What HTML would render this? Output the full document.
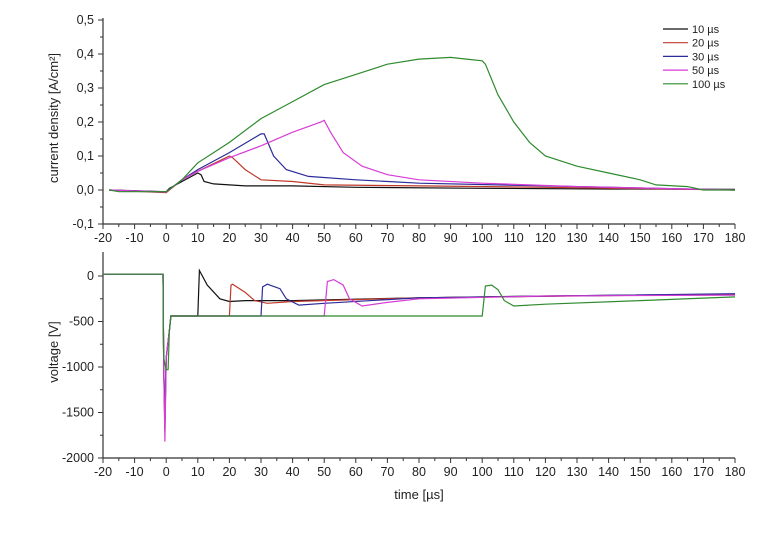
<!DOCTYPE html>
<html><head><meta charset="utf-8"><style>
body{margin:0;background:#fff;width:759px;height:533px;overflow:hidden}
svg{font-family:"Liberation Sans",sans-serif;font-size:12.5px;fill:#222}
</style></head><body>
<svg id="c" width="759" height="533"></svg>
<script>
const labels=["10 µs","20 µs","30 µs","50 µs","100 µs"];
const colors=["#111","#c0392b","#2b2b9a","#d63cd6","#2e8b2e"];
const xTicks=[-20,-10,0,10,20,30,40,50,60,70,80,90,100,110,120,130,140,150,160,170,180];
const jTicks=[-0.1,0,0.1,0.2,0.3,0.4,0.5];
const vTicks=[-2000,-1500,-1000,-500,0];
const j10=[[-18,0],[0,-0.005],[1,0.005],[5,0.025],[10,0.05],[11,0.045],[12,0.025],[15,0.018],[25,0.012],[40,0.012],[60,0.008],[100,0.005],[140,0.003],[180,0.002]];
const j20=[[-18,0],[0,-0.008],[5,0.03],[10,0.055],[20,0.1],[21,0.095],[25,0.06],[30,0.03],[40,0.025],[50,0.015],[80,0.012],[120,0.008],[180,0]];
const j30=[[-18,0],[0,-0.006],[5,0.03],[10,0.06],[20,0.11],[30,0.165],[31,0.165],[34,0.1],[38,0.06],[45,0.04],[60,0.03],[80,0.02],[120,0.012],[180,0]];
const j50=[[-18,0],[0,-0.006],[5,0.03],[10,0.055],[20,0.095],[30,0.13],[40,0.17],[49,0.2],[50,0.205],[52,0.17],[56,0.11],[62,0.07],[70,0.045],[80,0.03],[100,0.02],[130,0.01],[180,0]];
const j100=[[-18,0],[-15,-0.005],[0,-0.005],[5,0.03],[10,0.08],[15,0.11],[20,0.14],[30,0.21],[40,0.26],[50,0.31],[60,0.34],[70,0.37],[80,0.385],[90,0.39],[95,0.385],[100,0.38],[101,0.37],[105,0.28],[110,0.2],[115,0.14],[120,0.1],[130,0.07],[140,0.05],[150,0.03],[155,0.015],[165,0.01],[170,0],[180,0]];
const v10=[[-20,20],[-1,20],[-0.8,-1000],[-0.4,-1700],[0,-900],[1,-600],[1.5,-440],[10,-440],[10.5,60],[13,-100],[17,-250],[20,-280],[25,-270],[40,-270],[80,-240],[120,-220],[180,-200]];
const v20=[[-20,20],[-1,20],[-0.8,-1000],[-0.4,-1600],[0,-900],[1,-600],[1.5,-440],[20,-440],[20.5,-100],[21,-90],[25,-180],[28,-270],[32,-300],[40,-280],[80,-240],[180,-200]];
const v30=[[-20,20],[-1,20],[-0.8,-1000],[-0.4,-1500],[0,-900],[1,-600],[1.5,-440],[30,-440],[30.5,-120],[32,-90],[36,-140],[38,-250],[42,-320],[50,-300],[80,-240],[180,-195]];
const v50=[[-20,20],[-1,20],[-0.8,-1000],[-0.4,-1820],[0,-900],[1,-600],[1.5,-440],[50,-440],[51,-60],[53,-40],[56,-100],[58,-250],[62,-330],[70,-290],[80,-250],[120,-220],[180,-210]];
const v100=[[-20,20],[-1,20],[-0.8,-900],[0,-1030],[0.6,-1030],[1,-600],[1.5,-440],[100,-440],[101,-110],[103,-100],[105,-150],[107,-270],[110,-330],[120,-310],[150,-270],[180,-230]];
const jSeries=[j10,j20,j30,j50,j100], vSeries=[v10,v20,v30,v50,v100];
const svg=document.getElementById('c'),NS="http://www.w3.org/2000/svg";
function mk(t,a,txt){const e=document.createElementNS(NS,t);for(const k in a)e.setAttribute(k,a[k]);if(txt!==undefined)e.textContent=txt;svg.appendChild(e);return e;}
const X=x=>103+(x+20)*632/200;
const YJ=v=>190-v*340;
const YV=v=>276-v*182/2000;
function axes(Y,top,bot,ticks,fmt,name){
  let e=mk('line',{x1:103,y1:top,x2:103,y2:bot,stroke:'#333','stroke-width':1.2});
  
  e=mk('line',{x1:103,y1:bot,x2:735,y2:bot,stroke:'#333','stroke-width':1.2});
  
  xTicks.forEach((t,i)=>{mk('line',{x1:X(t),y1:bot,x2:X(t),y2:bot+5,stroke:'#333'});
    if(i<xTicks.length-1)mk('line',{x1:X(t+5),y1:bot,x2:X(t+5),y2:bot+3,stroke:'#333'});
    e=mk('text',{x:X(t),y:bot+18,'text-anchor':'middle'},t);
    });
  ticks.forEach((t,i)=>{mk('line',{x1:98,y1:Y(t),x2:103,y2:Y(t),stroke:'#333'});
    if(i<ticks.length-1)mk('line',{x1:100,y1:Y((t+ticks[i+1])/2),x2:103,y2:Y((t+ticks[i+1])/2),stroke:'#333'});
    e=mk('text',{x:94,y:Y(t)+4,'text-anchor':'end'},fmt(t));
    });
}
axes(YJ,18,224,jTicks,t=>t.toFixed(1).replace('.',','),'current');
axes(YV,252,458,vTicks,t=>String(t),'voltage');
function draw(series,Y,name){series.forEach((s,i)=>{
  const d=s.map((p,k)=>(k?'L':'M')+X(p[0]).toFixed(1)+','+Y(p[1]).toFixed(1)).join('');
  const e=mk('path',{d:d,fill:'none',stroke:colors[i],'stroke-width':1.2});
  
  });}
draw(jSeries,YJ,'current');draw(vSeries,YV,'voltage');
let e=mk('text',{x:0,y:0,transform:'translate(58,118) rotate(-90)','text-anchor':'middle','font-size':13},'current density [A/cm²]');

e=mk('text',{x:0,y:0,transform:'translate(58,352) rotate(-90)','text-anchor':'middle','font-size':13},'voltage [V]');

e=mk('text',{x:419,y:499,'text-anchor':'middle','font-size':13},'time [µs]');

labels.forEach((l,i)=>{const y=29+i*13.7;
  e=mk('line',{x1:663,y1:y,x2:688,y2:y,stroke:colors[i],'stroke-width':1.2});
  
  e=mk('text',{x:692,y:y+4,'font-size':11},l);
  });
</script>
</body></html>
